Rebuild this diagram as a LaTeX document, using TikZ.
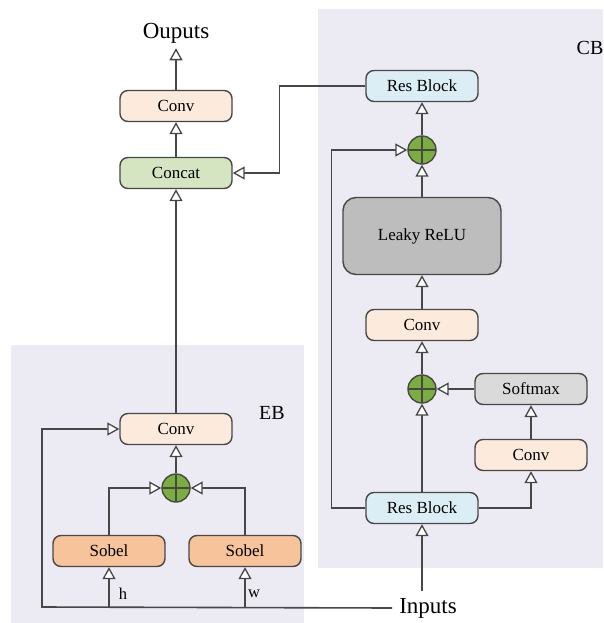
\documentclass[tikz,border=0pt]{standalone}
\usepackage{fontspec}
\setmainfont{Liberation Serif}
\usepackage{tikz}
\usetikzlibrary{arrows.meta}
\definecolor{convpeach}{HTML}{FCEBDD}
\definecolor{concatgreen}{HTML}{D5E5C2}
\definecolor{resblue}{HTML}{DCEEF5}
\definecolor{leakygray}{HTML}{BDBDBD}
\definecolor{softgray}{HTML}{DADADA}
\definecolor{sobelorange}{HTML}{F6C39B}
\definecolor{plusgreen}{HTML}{7AAF3F}
\definecolor{panelgray}{HTML}{ECEBF3}
\definecolor{linegray}{HTML}{474747}
\tikzset{
  block/.style={rectangle,rounded corners=8pt,draw=linegray,fill=#1,line width=1.4pt,
    minimum width=112pt,minimum height=31pt,inner sep=0pt,align=center,font=\fontsize{17}{20}\selectfont},
  block/.default=convpeach,
  bigblock/.style={block=#1,minimum width=158pt,minimum height=77pt,rounded corners=13pt},
  plus/.style={circle,draw=linegray,fill=plusgreen,line width=1.4pt,minimum size=28pt,inner sep=0pt,
    path picture={\draw[linegray,line width=1.4pt]
      (path picture bounding box.north) -- (path picture bounding box.south)
      (path picture bounding box.west) -- (path picture bounding box.east);}},
  arrow/.style={-{Triangle[length=12pt,width=13pt,fill=white,line width=1.3pt]},line width=1.6pt,draw=linegray},
  panel/.style={fill=panelgray,draw=none},
  title/.style={font=\fontsize{23}{26}\selectfont,inner sep=5pt},
  tag/.style={font=\fontsize{16.5}{19}\selectfont}
}
\begin{document}
\begin{tikzpicture}[x=1pt,y=-1pt]
\useasboundingbox[fill=white] (0,0) rectangle (603,623);
\fill[panel] (318,9) rectangle (603,568);
\fill[panel] (11,345) rectangle (304,623);
\node[tag,font=\fontsize{20}{23}\selectfont] (cblabel) at (590,48) {CB};
\node[tag,font=\fontsize{20}{23}\selectfont] (eblabel) at (272,413) {EB};

\node[title] (out) at (176,33) {Ouputs};
\node[block=convpeach] (convout) at (176,106) {Conv};
\node[block=concatgreen] (concat) at (176,173) {Concat};

\node[block=resblue] (restop) at (422,86) {Res Block};
\node[plus] (plustop) at (422,150) {};
\node[bigblock=leakygray] (leaky) at (422,236) {Leaky ReLU};
\node[block=convpeach] (convmid) at (422,325) {Conv};
\node[plus] (plusmid) at (422,389) {};
\node[block=softgray] (softmax) at (531,389) {Softmax};
\node[block=convpeach] (convside) at (531,455) {Conv};
\node[block=resblue] (resbot) at (422,508) {Res Block};
\node[title,inner sep=7pt] (in) at (428,608) {Inputs};

\node[block=convpeach] (conveb) at (176,429) {Conv};
\node[plus] (pluseb) at (176,488) {};
\node[block=sobelorange] (sobelh) at (109,551) {Sobel};
\node[block=sobelorange] (sobelw) at (245,551) {Sobel};
\node[tag] (hlabel) at (123,594) {h};
\node[tag] (wlabel) at (254,594) {w};
\coordinate (corner) at (42,607);

\draw[arrow] (convout) -- (out);
\draw[arrow] (concat) -- (convout);
\draw[arrow] (restop.west) -- ++(-86,0) |- (concat.east);
\draw[arrow] (plustop) -- (restop);
\draw[arrow] (leaky) -- (plustop);
\draw[arrow] (convmid) -- (leaky);
\draw[arrow] (plusmid) -- (convmid);
\draw[arrow] (softmax) -- (plusmid);
\draw[arrow] (convside) -- (softmax);
\draw[arrow] (resbot) -- (plusmid);
\draw[arrow] (resbot.east) -| (convside.south);
\draw[arrow] (resbot.west) -- ++(-34,0) |- (plustop.west);
\draw[arrow] (in.north -| resbot) -- (resbot);

\draw[arrow] (in.west) -- (corner) |- (conveb.west);
\draw[arrow] (sobelh |- corner) -- (sobelh);
\draw[arrow] (sobelw |- corner) -- (sobelw);
\draw[arrow] (sobelh.north) |- (pluseb.west);
\draw[arrow] (sobelw.north) |- (pluseb.east);
\draw[arrow] (pluseb) -- (conveb);
\draw[arrow] (conveb) -- (concat);
\end{tikzpicture}
\end{document}
